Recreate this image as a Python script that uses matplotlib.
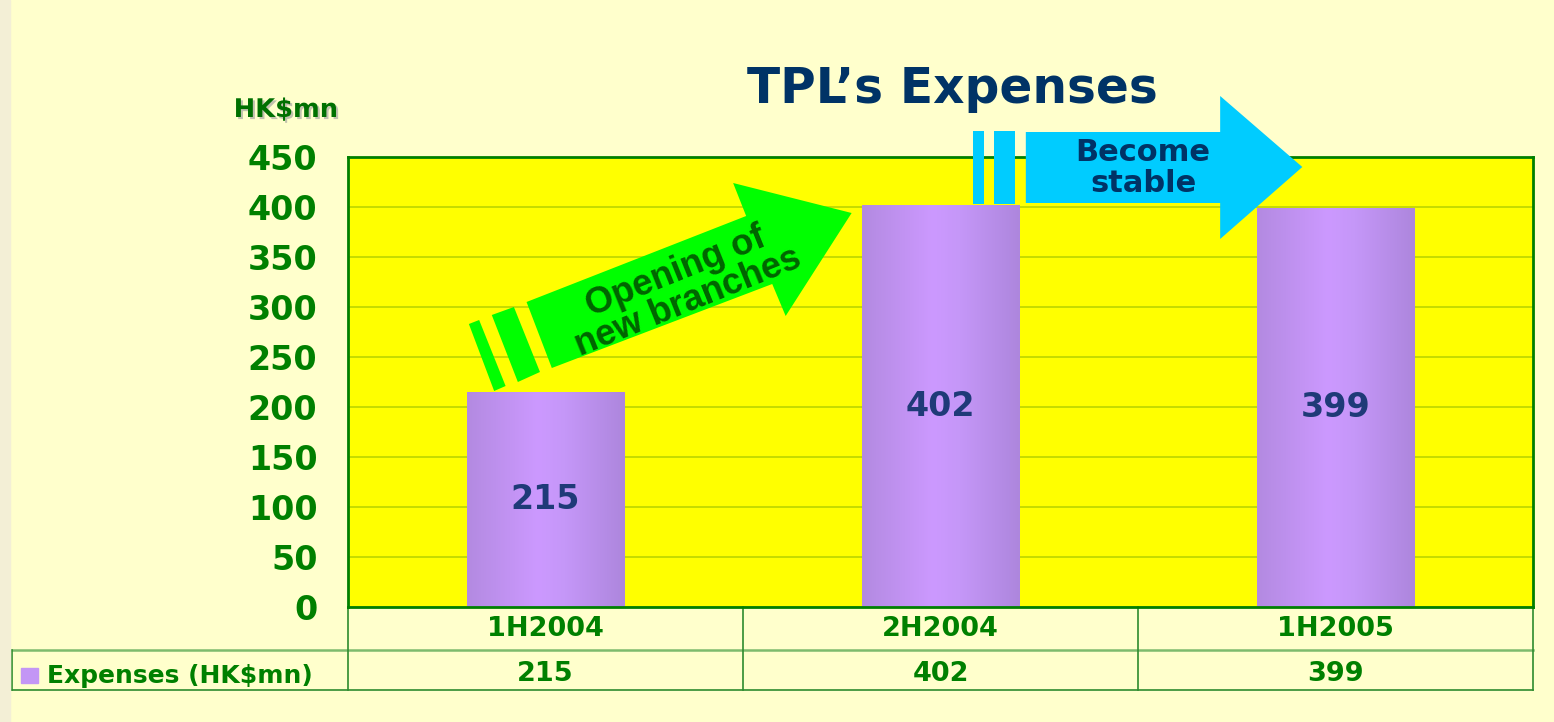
import numpy as np
import matplotlib.pyplot as plt
from matplotlib.patches import Polygon, Rectangle
from matplotlib.colors import LinearSegmentedColormap
import matplotlib.patheffects as pe

periods = ["1H2004", "2H2004", "1H2005"]
expenses = [215, 402, 399]
series_name = "Expenses (HK$mn)"
yticks = list(range(0, 451, 50))

green = "#008000"
navy = "#1F3A78"

fig = plt.figure(figsize=(15.54, 7.22), dpi=100, facecolor="#FFFFCC")
fig.patches.append(Rectangle((0, 0), 10 / 1554, 1, transform=fig.transFigure,
                             color="#F3EFD6", zorder=0))
ax = fig.add_axes([348 / 1554, 1 - 607 / 722, 1185 / 1554, 450 / 722])
ax.set_facecolor("#FFFF00")

x = np.arange(len(periods))
bars = ax.bar(x, expenses, width=0.4, color="none", zorder=2)

# purple gradient for the bars
cmap = LinearSegmentedColormap.from_list(
    "bar", [(0, "#B38AE1"), (0.45, "#CC99FF"), (0.62, "#C597F8"), (1, "#AD86DD")])
grad = np.linspace(0, 1, 256).reshape(1, -1)
for b in bars:
    im = ax.imshow(grad, extent=[b.get_x(), b.get_x() + b.get_width(), 0, b.get_height()],
                   aspect="auto", cmap=cmap, zorder=2)
    im.set_clip_path(b)

for xi, v in zip(x, expenses):
    ax.text(xi, v / 2, str(v), ha="center", va="center", fontsize=24, fontweight="bold",
            color=navy, zorder=3)

ax.set_xlim(-0.5, 2.5)
ax.set_ylim(0, 450)
ax.set_yticks(yticks)
ax.set_xticks([])
ax.tick_params(axis="y", length=0, pad=22, labelsize=24, labelcolor=green)
for lab in ax.get_yticklabels():
    lab.set_fontweight("bold")
ax.yaxis.grid(True, color="#BBD400", lw=1.2)
ax.set_axisbelow(True)
for s in ax.spines.values():
    s.set_color(green)
    s.set_linewidth(2)

# table under the chart
tr = ax.get_xaxis_transform()
lc = "#2E8B2E"
x_left = -1.350
ax.plot([x_left, 2.5], [-0.0956, -0.0956], color="#7DBB6D", lw=1.8, transform=tr,
        clip_on=False)
ax.plot([x_left, 2.5], [-0.1844, -0.1844], color=lc, lw=1.2, transform=tr, clip_on=False)
ax.plot([x_left, x_left], [-0.0956, -0.1844], color=lc, lw=1.2, transform=tr, clip_on=False)
for xv in [-0.5, 0.5, 1.5, 2.5]:
    ax.plot([xv, xv], [0, -0.1844], color=lc, lw=1.2, transform=tr, clip_on=False)
for xi, p, v in zip(x, periods, expenses):
    ax.text(xi, -0.050, p, transform=tr, ha="center", va="center", fontsize=19.5,
            fontweight="bold", color=green)
    ax.text(xi, -0.149, str(v), transform=tr, ha="center", va="center", fontsize=19.5,
            fontweight="bold", color=green)
ax.add_patch(Rectangle((-1.328, -0.1689), 0.0423, 0.0333, transform=tr, clip_on=False,
                       color="#C396F5"))
ax.text(-1.2628, -0.153, series_name, transform=tr, ha="left", va="center",
        fontsize=18, fontweight="bold", color=green)

# green arrow: opening of new branches
arrow_g = [(-0.048, 305), (0.508, 391), (0.475, 424), (0.775, 394), (0.608, 291),
           (0.574, 323), (0.016, 239)]
ax.add_patch(Polygon(arrow_g, closed=True, color="#00FF00", lw=0, zorder=4))
ax.add_patch(Polygon([(-0.194, 283), (-0.168, 287), (-0.101, 221), (-0.130, 216)],
                     color="#00FF00", lw=0, zorder=4))
ax.add_patch(Polygon([(-0.136, 292), (-0.080, 300), (-0.014, 235), (-0.070, 225)],
                     color="#00FF00", lw=0, zorder=4))
ax.text(0.345, 320, "Opening of\nnew branches", rotation=22, ha="center", va="center",
        fontsize=26, fontweight="bold", family="Liberation Sans", color="#006400",
        linespacing=0.88, zorder=5, rotation_mode="anchor")

# blue arrow: become stable
arrow_b = [(1.216, 475), (1.708, 475), (1.708, 511), (1.916, 440), (1.708, 368),
           (1.708, 404), (1.216, 404)]
ax.add_patch(Polygon(arrow_b, closed=True, color="#00CCFF", lw=0, zorder=4, clip_on=False))
ax.add_patch(Rectangle((1.0815, 403), 0.0286, 73, color="#00CCFF", lw=0, zorder=4,
                       clip_on=False))
ax.add_patch(Rectangle((1.1354, 403), 0.0532, 73, color="#00CCFF", lw=0, zorder=4,
                       clip_on=False))
ax.text(1.513, 439, "Become\nstable", ha="center", va="center", fontsize=22,
        fontweight="bold", color="#003366", linespacing=1.05, zorder=5)

fig.text(952 / 1554, 1 - 89 / 722, "TPL\u2019s Expenses", ha="center", va="center",
         fontsize=35, fontweight="bold", color="#003366")
fig.text(286 / 1554, 1 - 110 / 722, "HK$mn", ha="center", va="center", fontsize=18.5,
         fontweight="bold", color="#007000",
         path_effects=[pe.SimplePatchShadow(offset=(1.5, -1.5), shadow_rgbFace="#999999",
                                            alpha=0.6), pe.Normal()])

fig.savefig("out.png", dpi=100, facecolor=fig.get_facecolor())
